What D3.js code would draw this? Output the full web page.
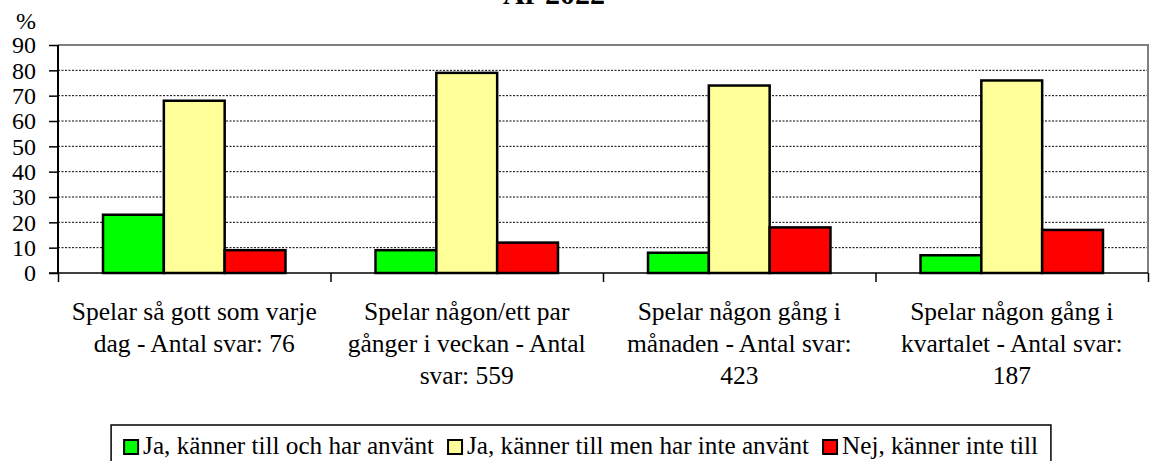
<!DOCTYPE html>
<html>
<head>
    <meta charset="UTF-8">
    <title>År 2022</title>
    <script src="https://d3js.org/d3.v7.min.js"></script>
    <style>
        body { margin: 0; background: #fff; }
        svg { display: block; }
        .grid line { stroke: #000; stroke-dasharray: 2,1.5; stroke-width: 1; }
        .bar { stroke: #000; stroke-width: 2.5; }
    </style>
</head>
<body>
<div id="chart"></div>
<script>
    // data
    const categories = [
        ["Spelar så gott som varje", "dag - Antal svar: 76"],
        ["Spelar någon/ett par", "gånger i veckan - Antal", "svar: 559"],
        ["Spelar någon gång i", "månaden - Antal svar:", "423"],
        ["Spelar någon gång i", "kvartalet - Antal svar:", "187"]
    ];
    const seriesNames = ["Ja, känner till och har använt", "Ja, känner till men har inte använt", "Nej, känner inte till"];
    const seriesColors = ["#00ff00", "#ffff99", "#ff0000"];
    const jaAnvant = [23, 9, 8, 7];
    const jaInteAnvant = [68, 79, 74, 76];
    const nej = [9, 12, 18, 17];
    const yTicks = [0, 10, 20, 30, 40, 50, 60, 70, 80, 90];

    const W = 1155, H = 461;
    const plotL = 58, plotR = 1148, plotT = 45, plotB = 273;
    const FONT = "Liberation Serif";

    const svg = d3.select("#chart").append("svg")
        .attr("width", W).attr("height", H)
        .attr("font-family", FONT);

    // title (mostly cut off at the top in the original)
    svg.append("text")
        .attr("x", 554).attr("y", 4)
        .attr("text-anchor", "middle")
        .attr("font-size", 30).attr("font-weight", "bold")
        .text("År 2022");

    const x0 = d3.scaleBand().domain(d3.range(categories.length)).range([plotL, plotR]);
    const x1 = d3.scaleBand().domain(d3.range(3)).range([0, x0.bandwidth()]).paddingOuter(0.74).paddingInner(0);
    const y = d3.scaleLinear().domain([0, 90]).range([plotB, plotT]);

    // gridlines
    svg.append("g").attr("class", "grid")
        .selectAll("line").data(yTicks.filter(d => d > 0 && d < 90)).enter()
        .append("line")
        .attr("x1", plotL).attr("x2", plotR)
        .attr("y1", d => y(d)).attr("y2", d => y(d));

    // plot frame top/right
    svg.append("path")
        .attr("d", `M${plotL},${plotT}H${plotR}V${plotB}`)
        .attr("fill", "none").attr("stroke", "#808080").attr("stroke-width", 2);

    // bars
    const series = [jaAnvant, jaInteAnvant, nej];
    const groups = svg.append("g").selectAll("g").data(categories).enter()
        .append("g").attr("transform", (d, i) => `translate(${x0(i)},0)`);
    groups.selectAll("rect")
        .data((d, i) => series.map((s, k) => ({ k: k, v: s[i] })))
        .enter().append("rect")
        .attr("class", "bar")
        .attr("x", d => x1(d.k))
        .attr("width", x1.bandwidth())
        .attr("y", d => y(d.v))
        .attr("height", d => y(0) - y(d.v))
        .attr("fill", d => seriesColors[d.k]);

    // y axis
    const yAxis = svg.append("g")
        .attr("transform", `translate(${plotL},0)`)
        .call(d3.axisLeft(y).tickValues(yTicks).tickSize(9).tickPadding(13));
    yAxis.attr("font-family", FONT).attr("font-size", 24);
    yAxis.select(".domain").attr("stroke", "#000").attr("stroke-width", 2).attr("d", `M0,${plotT}V${plotB}`);
    yAxis.selectAll(".tick line").attr("stroke", "#000").attr("stroke-width", 1.5);
    yAxis.selectAll("text").attr("fill", "#000");

    svg.append("text").attr("x", 36).attr("y", 29)
        .attr("text-anchor", "end").attr("font-size", 24).text("%");

    // x axis
    const xb = d3.scaleLinear().domain([0, categories.length]).range([plotL, plotR]);
    const xAxis = svg.append("g").attr("transform", `translate(0,${plotB})`)
        .call(d3.axisBottom(xb).ticks(4).tickSize(9).tickFormat(""));
    xAxis.select(".domain").attr("stroke", "#000").attr("stroke-width", 1.5)
        .attr("d", `M${plotL - 9},0H${plotR}`);
    xAxis.selectAll(".tick line").attr("stroke", "#000").attr("stroke-width", 1.5);

    // category labels
    groups.append("text")
        .attr("text-anchor", "middle")
        .attr("font-size", 25.5)
        .selectAll("tspan").data(d => d).enter()
        .append("tspan")
        .attr("x", x0.bandwidth() / 2)
        .attr("y", (d, i) => 320 + i * 32)
        .text(d => d);

    // legend
    const legend = svg.append("g");
    const lgBox = legend.append("rect")
        .attr("fill", "#fff").attr("stroke", "#000").attr("stroke-width", 1.5);
    const items = legend.append("g");
    let lx = 0;
    seriesNames.forEach((name, k) => {
        items.append("rect")
            .attr("x", lx).attr("y", 440).attr("width", 14).attr("height", 14)
            .attr("fill", seriesColors[k]).attr("stroke", "#000").attr("stroke-width", 2);
        const t = items.append("text")
            .attr("x", lx + 19).attr("y", 454)
            .attr("font-size", 25.2).text(name);
        lx += 19 + t.node().getComputedTextLength() + 14;
    });
    const boxW = lx - 14 + 26;
    const boxX = 581 - boxW / 2;
    items.attr("transform", `translate(${boxX + 13},0)`);
    lgBox.attr("x", boxX).attr("y", 425).attr("width", boxW).attr("height", 40);
</script>
</body>
</html>
